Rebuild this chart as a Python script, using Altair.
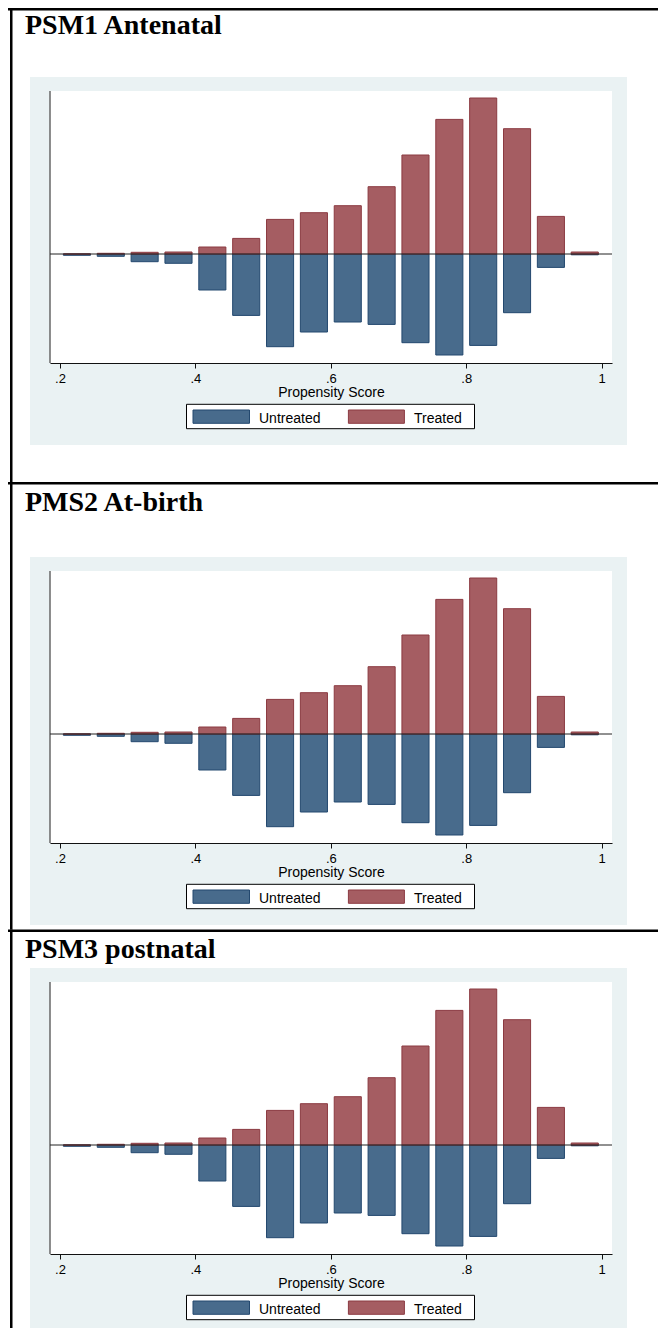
import altair as alt
import pandas as pd

# ---------------- data ----------------
PANEL_TITLES = ["PSM1 Antenatal", "PMS2 At-birth", "PSM3 postnatal"]
GROUPS = ["Untreated", "Treated"]
AXIS_TITLE = "Propensity Score"
TICK_VALUES = [0.2, 0.4, 0.6, 0.8, 1.0]
TICK_LABELS = [".2", ".4", ".6", ".8", "1"]

BIN_CENTERS = [0.225, 0.275, 0.325, 0.375, 0.425, 0.475, 0.525, 0.575,
               0.625, 0.675, 0.725, 0.775, 0.825, 0.875, 0.925, 0.975]
# densities (arbitrary units) - identical shape in the three panels
TREATED = [0.000, 0.007, 0.017, 0.020, 0.070, 0.156, 0.346, 0.413,
           0.483, 0.673, 0.990, 1.346, 1.560, 1.253, 0.376, 0.020]
UNTREATED = [0.013, 0.023, 0.077, 0.093, 0.360, 0.614, 0.927, 0.780,
             0.680, 0.704, 0.887, 1.010, 0.914, 0.587, 0.134, 0.008]

# ---------------- style / layout ----------------
FILLS = ["#486b8c", "#a55d62"]
STROKES = ["#23486e", "#8b3a41"]
GRAY_BG = "#eaf2f3"
SANS = "Liberation Sans"
SERIF = "Liberation Serif"

PAGE_RIGHT = 658       # last usable page column (8px body margin)
PAGE_BOTTOM = 1328     # last usable page row
ORIGIN_X = 50          # page x of the plot's left edge
VIEW_W = 562
X_DOMAIN = [0.18523, 1.01524]
BAR_WIDTH = 0.04
PX_PER_UNIT = 100.0

VIEW_TOP = [91, 363, 843]
PLOT_TOP = [91, 571, 982]
ZERO_Y = [254, 734, 1145]
AXIS_Y = [363, 843, 1254]
BORDER_TOP = [8, 482, 929.5]
BORDER_BOTTOM = [482, 929.5, PAGE_BOTTOM]
TITLE_BASE = [33.5, 510.5, 957.5]

ONE = pd.DataFrame({"k": [0]})


def make_panel(k):
    vt = VIEW_TOP[k]
    H = AXIS_Y[k] - vt
    A = AXIS_Y[k]

    def lx(px):
        return px - ORIGIN_X

    def ly(py):
        return py - vt

    def rect(x1, x2, y1, y2, **style):
        return alt.Chart(ONE).mark_rect(**style).encode(
            x=alt.value(lx(x1)), x2=alt.value(lx(x2)),
            y=alt.value(ly(y1)), y2=alt.value(ly(y2)))

    def text(label, px, py, **style):
        return alt.Chart(pd.DataFrame({"label": [label]})).mark_text(
            align="left", baseline="alphabetic", **style).encode(
            text="label:N", x=alt.value(lx(px)), y=alt.value(ly(py)))

    y_lo = -(AXIS_Y[k] - ZERO_Y[k]) / PX_PER_UNIT
    y_hi = (ZERO_Y[k] - vt) / PX_PER_UNIT

    rows = []
    for c, t, u in zip(BIN_CENTERS, TREATED, UNTREATED):
        rows.append({"group": GROUPS[0], "center": c, "value": -u})
        rows.append({"group": GROUPS[1], "center": c, "value": t})
    df = pd.DataFrame(rows)

    label_expr = f"{TICK_LABELS}[indexof({TICK_VALUES}, datum.value)]"
    x_axis = alt.Axis(
        values=TICK_VALUES, labelExpr=label_expr, grid=False,
        tickSize=5, tickColor="#111111", tickWidth=1,
        domainColor="#111111", domainWidth=1.2,
        labelFont=SANS, labelFontSize=13, labelColor="black",
        labelPadding=4, labelFlush=False, labelOverlap=False,
        title=AXIS_TITLE, titleFont=SANS, titleFontSize=14,
        titleFontWeight="normal", titleColor="black",
        titleBaseline="alphabetic", titleY=33, zindex=1)

    bars = alt.Chart(df).transform_calculate(
        x0=f"datum.center - {BAR_WIDTH / 2}",
        x1=f"datum.center + {BAR_WIDTH / 2}",
        zero="0",
    ).mark_rect(strokeWidth=1).encode(
        x=alt.X("x0:Q", scale=alt.Scale(domain=X_DOMAIN, nice=False, zero=False),
                axis=x_axis),
        x2="x1:Q",
        y=alt.Y("value:Q", scale=alt.Scale(domain=[y_lo, y_hi], nice=False, zero=False),
                axis=None),
        y2="zero:Q",
        color=alt.Color("group:N", scale=alt.Scale(domain=GROUPS, range=FILLS), legend=None),
        stroke=alt.Stroke("group:N", scale=alt.Scale(domain=GROUPS, range=STROKES), legend=None),
    )

    zero_line = alt.Chart(ONE).mark_rule(color="#222222", strokeWidth=1).encode(
        y=alt.datum(0), x=alt.value(0), x2=alt.value(VIEW_W))

    gray_bottom = min(PLOT_TOP[k] + 354, PAGE_BOTTOM)
    layers = [
        rect(8, PAGE_RIGHT, BORDER_TOP[k], BORDER_TOP[k] + 2.5, color="black"),
        rect(10, 12.5, BORDER_TOP[k], BORDER_BOTTOM[k], color="black"),
        rect(30, 627, PLOT_TOP[k] - 14, gray_bottom, color=GRAY_BG),
        rect(50, 612, PLOT_TOP[k], A, color="white"),
        rect(49.2, 50.8, PLOT_TOP[k], A, color="#707070"),
        bars,
        zero_line,
        # legend
        rect(186.5, 474.5, A + 41.3, A + 65.7, fill="white", stroke="black", strokeWidth=1),
        rect(193, 249.5, A + 47, A + 60.3, fill=FILLS[0], stroke=STROKES[0], strokeWidth=1),
        text(GROUPS[0], 259, A + 59.7, font=SANS, fontSize=14, color="black"),
        rect(348.4, 404.4, A + 47, A + 60.3, fill=FILLS[1], stroke=STROKES[1], strokeWidth=1),
        text(GROUPS[1], 414, A + 59.7, font=SANS, fontSize=14, color="black"),
        # panel title
        text(PANEL_TITLES[k], 25, TITLE_BASE[k], font=SERIF, fontSize=28,
             fontWeight="bold", color="black"),
    ]
    return alt.layer(*layers).properties(width=VIEW_W, height=H)


chart = alt.vconcat(
    *[make_panel(k) for k in range(3)], spacing=0, bounds="flush"
).resolve_scale(y="independent").properties(
    padding=0, background="white"
).configure_view(strokeWidth=0, stroke="transparent")

chart.save("out.html", embed_options={"renderer": "svg", "actions": False})
